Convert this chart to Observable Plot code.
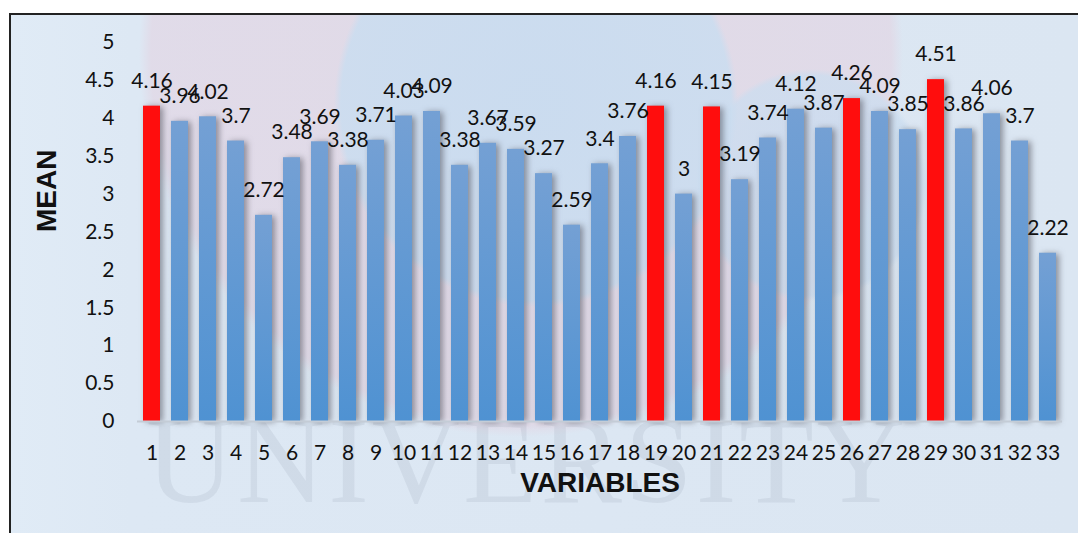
<!DOCTYPE html>
<html>
<head>
<meta charset="utf-8">
<script src="https://cdn.jsdelivr.net/npm/d3@7"></script>
<script src="https://cdn.jsdelivr.net/npm/@observablehq/plot@0.6"></script>
<style>
  html, body { margin: 0; padding: 0; background: #ffffff; }
  #chart { position: relative; width: 1078px; height: 533px; overflow: hidden; background: #ffffff; }
  #panel {
    position: absolute; left: 9px; top: 13px; width: 1069px; height: 520px;
    border-left: 2px solid #222; border-top: 2px solid #222; box-sizing: border-box;
    background:
      radial-gradient(circle at 525px 90px, rgba(200,220,240,0.9) 0px, rgba(202,221,240,0.85) 195px, rgba(202,221,240,0) 202px),
      radial-gradient(circle at 800px 170px, rgba(200,220,240,0.8) 0px, rgba(202,221,240,0.7) 110px, rgba(202,221,240,0) 116px),
      radial-gradient(circle at 510px 40px, rgba(226,214,228,0.8) 0px, rgba(226,214,228,0.7) 370px, rgba(226,214,228,0) 382px),
      linear-gradient(90deg, #e0ebf6 0px, #dde8f4 120px, #dbe6f2 100%);
  }
  #watermark {
    position: absolute; left: 146px; top: 400px; font-family: "Liberation Serif", serif;
    font-size: 122px; letter-spacing: 3px; color: rgba(150,162,175,0.18); line-height: 1;
    white-space: nowrap;
  }
  #chart svg { position: absolute; left: 0; top: 0; }
  g[aria-label="bar"] { filter: drop-shadow(3px 1px 3px rgba(70,70,80,0.55)); }
</style>
</head>
<body>
<div id="chart"><div id="panel"></div><div id="watermark">UNIVERSITY</div></div>
<script>
const variables = ["1","2","3","4","5","6","7","8","9","10","11","12","13","14","15","16","17","18","19","20","21","22","23","24","25","26","27","28","29","30","31","32","33"];
const means = [4.16, 3.96, 4.02, 3.7, 2.72, 3.48, 3.69, 3.38, 3.71, 4.03, 4.09, 3.38, 3.67, 3.59, 3.27, 2.59, 3.4, 3.76, 4.16, 3, 4.15, 3.19, 3.74, 4.12, 3.87, 4.26, 4.09, 3.85, 4.51, 3.86, 4.06, 3.7, 2.22];
const highlighted = ["1", "19", "21", "26", "29"];
const yTicks = [0, 0.5, 1, 1.5, 2, 2.5, 3, 3.5, 4, 4.5, 5];
const xTitle = "VARIABLES";
const yTitle = "MEAN";

const data = variables.map((v, i) => ({variable: v, mean: means[i], red: highlighted.includes(v)}));

const chart = Plot.plot({
  width: 1078,
  height: 533,
  marginLeft: 137,
  marginRight: 16,
  marginTop: 42,
  marginBottom: 112,
  style: {background: "transparent", fontFamily: "Lato, sans-serif", color: "#111"},
  x: {domain: variables, paddingInner: 0.39, paddingOuter: 0.2, label: null},
  y: {domain: [0, 5], label: null},
  marks: [
    Plot.axisY({ticks: yTicks, tickSize: 0, tickPadding: 23, fontSize: 21, label: null, tickFormat: d => String(d)}),
    Plot.axisX({tickSize: 0, tickPadding: 24, fontSize: 21, label: null}),
    Plot.barY(data.filter(d => !d.red), {x: "variable", y: "mean", fill: "url(#barGrad)"}),
    Plot.barY(data.filter(d => d.red), {x: "variable", y: "mean", fill: "#ff0d0d"}),
    Plot.ruleY([0], {stroke: "#c4ccd6", strokeWidth: 2}),
    Plot.text(data, {x: "variable", y: "mean", text: d => String(d.mean), dy: -25, fontSize: 21, fill: "#111"}),
    Plot.text([yTitle], {text: d => d, frameAnchor: "left", dx: -90, rotate: -90, fontSize: 28, fontWeight: "bold", fontFamily: "Liberation Sans, Arial, sans-serif", fill: "#111"}),
    Plot.text([xTitle], {text: d => d, frameAnchor: "bottom", dy: 70, fontSize: 28, fontWeight: "bold", fontFamily: "Liberation Sans, Arial, sans-serif", fill: "#111"})
  ]
});

const ns = "http://www.w3.org/2000/svg";
const defs = document.createElementNS(ns, "defs");
const grad = document.createElementNS(ns, "linearGradient");
grad.setAttribute("id", "barGrad");
grad.setAttribute("x1", "0"); grad.setAttribute("y1", "0");
grad.setAttribute("x2", "0"); grad.setAttribute("y2", "1");
[["0", "#74a0d4"], ["1", "#4f92d2"]].forEach(([o, c]) => {
  const s = document.createElementNS(ns, "stop");
  s.setAttribute("offset", o); s.setAttribute("stop-color", c);
  grad.appendChild(s);
});
defs.appendChild(grad);
chart.insertBefore(defs, chart.firstChild);

document.getElementById("chart").appendChild(chart);
</script>
</body>
</html>
